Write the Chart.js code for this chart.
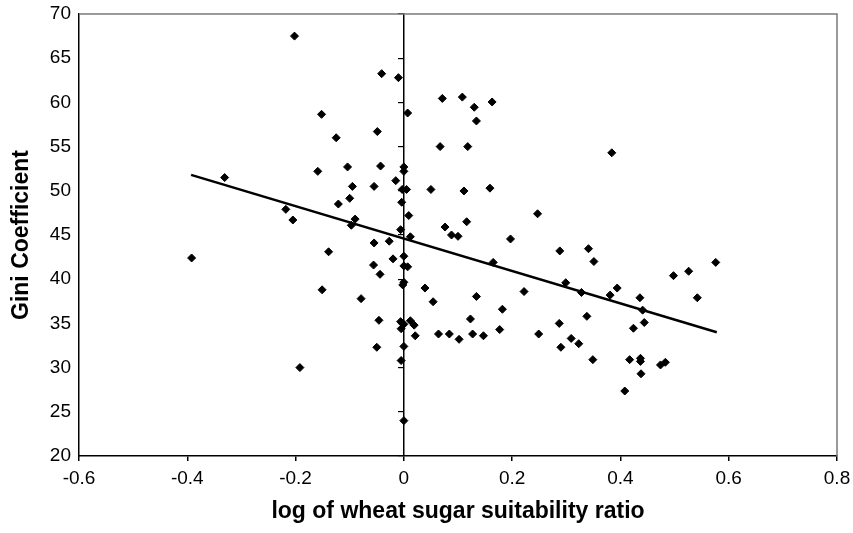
<!DOCTYPE html>
<html>
<head>
<meta charset="utf-8">
<script src="https://cdn.jsdelivr.net/npm/chart.js@4.4.1/dist/chart.umd.min.js"></script>
<style>
  html, body { margin: 0; padding: 0; background: #fff; }
  #wrap { width: 853px; height: 533px; }
</style>
</head>
<body>
<div id="wrap"><canvas id="giniChart" width="853" height="533"></canvas></div>
<script>
/* Gini coefficient vs log wheat/sugar suitability ratio */
const xValues = [
  -0.392, -0.331, -0.218, -0.205, -0.202, -0.192, -0.159, -0.152, -0.151, -0.139,
  -0.125, -0.121, -0.104, -0.100, -0.097, -0.095, -0.090, -0.079, -0.056, -0.055,
  -0.055, -0.050, -0.049, -0.046, -0.044, -0.043, -0.041, -0.027, -0.020, -0.015,
  -0.010, -0.006, -0.006, -0.005, -0.005, -0.004, 0.000, 0.000, -0.003, 0.005,
  0.000, 0.000, 0.000, -0.002, 0.000, 0.000, 0.000, 0.007, 0.007, 0.009,
  0.012, 0.012, 0.019, 0.021, 0.039, 0.050, 0.054, 0.064, 0.067, 0.071,
  0.076, 0.084, 0.088, 0.100, 0.102, 0.108, 0.111, 0.116, 0.118, 0.123,
  0.127, 0.130, 0.134, 0.134, 0.147, 0.159, 0.163, 0.165, 0.177, 0.182,
  0.197, 0.222, 0.247, 0.249, 0.287, 0.288, 0.290, 0.299, 0.309, 0.323,
  0.328, 0.338, 0.341, 0.349, 0.351, 0.381, 0.384, 0.394, 0.408, 0.417,
  0.424, 0.436, 0.437, 0.437, 0.438, 0.441, 0.444, 0.474, 0.483, 0.498,
  0.526, 0.542, 0.576
];
const giniValues = [
  42.4, 51.5, 47.9, 46.7, 67.5, 30.0, 52.2, 58.65, 38.8, 43.1,
  56.0, 48.5, 52.7, 49.15, 46.1, 50.5, 46.8, 37.8, 41.6, 50.5,
  44.1, 32.3, 56.7, 35.35, 40.55, 52.8, 63.25, 44.3, 42.3, 51.15,
  62.8, 45.6, 35.2, 34.4, 30.8, 48.7, 52.7, 52.2, 50.15, 50.15,
  42.6, 41.5, 39.65, 39.35, 34.9, 32.4, 24.0, 58.8, 41.4, 47.2,
  44.8, 35.3, 34.8, 33.6, 39.0, 50.15, 37.45, 33.8, 55.0, 60.45,
  45.9, 33.8, 45.0, 44.85, 33.2, 60.6, 49.98, 46.5, 55.0, 35.5,
  33.8, 59.45, 57.9, 38.05, 33.6, 50.3, 60.05, 41.9, 34.3, 36.6,
  44.55, 38.6, 47.4, 33.8, 35.0, 43.2, 32.3, 39.6, 33.3, 32.7,
  38.5, 35.8, 43.45, 30.9, 42.0, 38.2, 54.3, 39.0, 27.35, 30.9,
  34.45, 37.9, 31.05, 30.7, 29.3, 36.5, 35.1, 30.3, 30.6, 40.4,
  40.9, 37.9, 41.9
];
// fitted trend line end points
const trendX = [-0.393, 0.578];
const trendY = [51.8, 34.0];

const xTicks = [-0.6, -0.4, -0.2, 0, 0.2, 0.4, 0.6, 0.8];
const yTicks = [20, 25, 30, 35, 40, 45, 50, 55, 60, 65, 70];

const FONT = "'Liberation Sans', Arial, Helvetica, sans-serif";

// grey top / right plot frame like the spreadsheet original
const frameLines = {
  id: 'frameLines',
  beforeDatasetsDraw(chart) {
    const { ctx, chartArea: a } = chart;
    ctx.save();
    ctx.strokeStyle = '#7a7a7a';
    ctx.lineWidth = 1.5;
    ctx.beginPath();
    ctx.moveTo(a.left, a.top);
    ctx.lineTo(a.right, a.top);
    ctx.lineTo(a.right, a.bottom);
    ctx.stroke();
    ctx.restore();
  }
};

function renderChart() {
  const ctx = document.getElementById('giniChart');
  const points = xValues.map((x, i) => ({ x, y: giniValues[i] }));
  const trend = trendX.map((x, i) => ({ x, y: trendY[i] }));

  new Chart(ctx, {
    type: 'scatter',
    data: {
      datasets: [
        { type: 'scatter', data: points, pointStyle: 'rectRot', pointRadius: 4,
          backgroundColor: '#000', borderColor: '#000', borderWidth: 1, order: 2 },
        { type: 'line', data: trend, borderColor: '#000', borderWidth: 2.5,
          pointRadius: 0, fill: false, order: 1 }
      ]
    },
    options: {
      responsive: false,
      animation: false,
      events: [],
      layout: { padding: { top: 14, right: 16, left: 0, bottom: 0 } },
      plugins: { legend: { display: false }, tooltip: { enabled: false } },
      scales: {
        x: {
          type: 'linear', position: 'bottom',
          min: xTicks[0], max: xTicks[xTicks.length - 1],
          afterBuildTicks: axis => { axis.ticks = xTicks.map(v => ({ value: v })); },
          afterFit: axis => { axis.height = 77; axis.paddingLeft = 0; axis.paddingRight = 0; },
          grid: { drawOnChartArea: false, tickLength: 5, color: '#000', lineWidth: 1.5 },
          border: { color: '#000', width: 1.5 },
          ticks: { color: '#000', padding: 6, font: { family: FONT, size: 19 },
            callback: v => String(Math.round(v * 10) / 10) },
          title: { display: true, text: 'log of wheat sugar suitability ratio', color: '#000',
            font: { family: FONT, size: 23, weight: 'bold' }, padding: { top: 0, bottom: 8 } }
        },
        y: {
          type: 'linear', position: 'left',
          min: yTicks[0], max: yTicks[yTicks.length - 1],
          afterBuildTicks: axis => { axis.ticks = yTicks.map(v => ({ value: v })); },
          afterFit: axis => { axis.width = 79; axis.paddingTop = 0; axis.paddingBottom = 0; },
          grid: { display: false, drawTicks: false },
          border: { color: '#000', width: 1.5 },
          ticks: { color: '#000', padding: 8, font: { family: FONT, size: 19 } },
          title: { display: true, text: 'Gini Coefficient', color: '#000',
            font: { family: FONT, size: 23, weight: 'bold' }, padding: { top: 8, bottom: 0 } }
        },
        // value axis crossing at x = 0, tick marks only
        yCross: {
          type: 'linear', axis: 'y', position: { x: 0 },
          min: yTicks[0], max: yTicks[yTicks.length - 1],
          afterBuildTicks: axis => { axis.ticks = yTicks.map(v => ({ value: v })); },
          grid: { drawOnChartArea: false, tickLength: 5, color: '#000', lineWidth: 1.2 },
          border: { color: '#000', width: 1.5 },
          ticks: { display: false }
        }
      }
    },
    plugins: [frameLines]
  });
}

document.addEventListener('DOMContentLoaded', renderChart);
</script>
</body>
</html>
